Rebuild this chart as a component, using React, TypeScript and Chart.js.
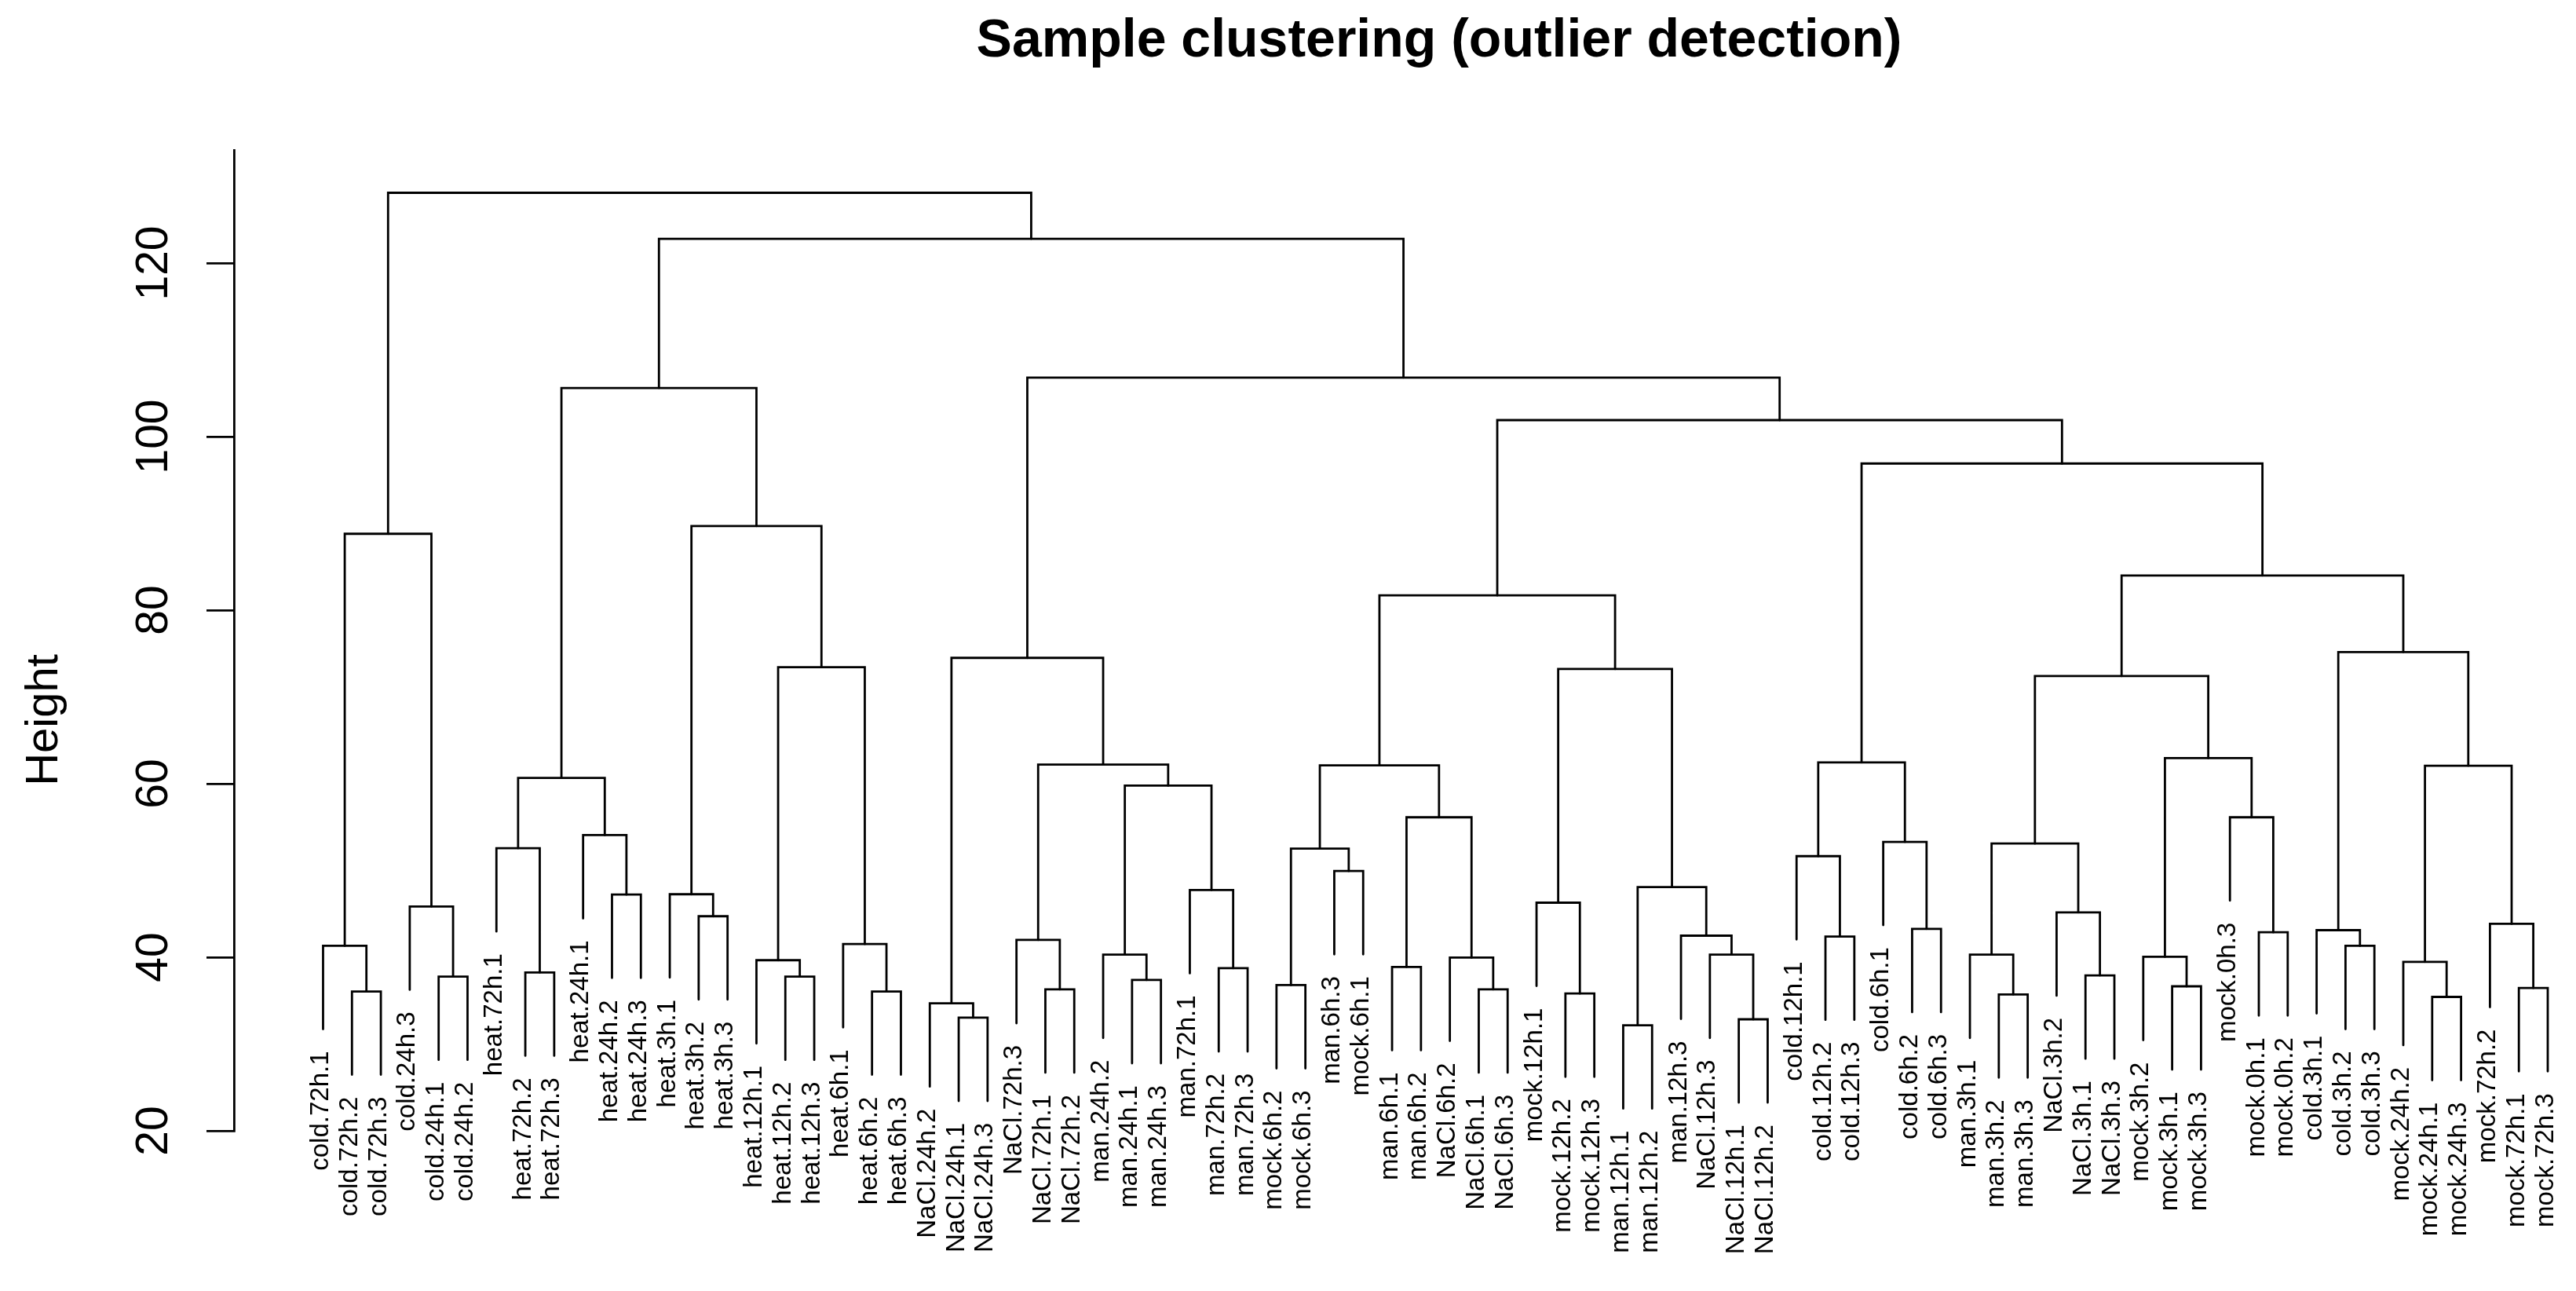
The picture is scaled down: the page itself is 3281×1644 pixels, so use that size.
import React, { useEffect, useRef } from "react";
import { Chart, registerables } from "chart.js";

Chart.register(...registerables);

const TITLE = "Sample clustering (outlier detection)";
const Y_TITLE = "Height";
const yTicks = [20, 40, 60, 80, 100, 120];

// leaves in dendrogram display order (left to right)
const leafLabels = [
  "cold.72h.1", "cold.72h.2", "cold.72h.3", "cold.24h.3", "cold.24h.1", "cold.24h.2",
  "heat.72h.1", "heat.72h.2", "heat.72h.3", "heat.24h.1", "heat.24h.2", "heat.24h.3",
  "heat.3h.1", "heat.3h.2", "heat.3h.3", "heat.12h.1", "heat.12h.2", "heat.12h.3",
  "heat.6h.1", "heat.6h.2", "heat.6h.3", "NaCl.24h.2", "NaCl.24h.1", "NaCl.24h.3",
  "NaCl.72h.3", "NaCl.72h.1", "NaCl.72h.2", "man.24h.2", "man.24h.1", "man.24h.3",
  "man.72h.1", "man.72h.2", "man.72h.3", "mock.6h.2", "mock.6h.3", "man.6h.3",
  "mock.6h.1", "man.6h.1", "man.6h.2", "NaCl.6h.2", "NaCl.6h.1", "NaCl.6h.3",
  "mock.12h.1", "mock.12h.2", "mock.12h.3", "man.12h.1", "man.12h.2", "man.12h.3",
  "NaCl.12h.3", "NaCl.12h.1", "NaCl.12h.2", "cold.12h.1", "cold.12h.2", "cold.12h.3",
  "cold.6h.1", "cold.6h.2", "cold.6h.3", "man.3h.1", "man.3h.2", "man.3h.3",
  "NaCl.3h.2", "NaCl.3h.1", "NaCl.3h.3", "mock.3h.2", "mock.3h.1", "mock.3h.3",
  "mock.0h.3", "mock.0h.1", "mock.0h.2", "cold.3h.1", "cold.3h.2", "cold.3h.3",
  "mock.24h.2", "mock.24h.1", "mock.24h.3", "mock.72h.2", "mock.72h.1", "mock.72h.3",
];

// merge table (R hclust style): negative = leaf number (1-based), positive = earlier merge number
const mergeLeft = [
  -2, -1, -5, -4, 2, -8, -7, -11, -10, 7,
  -14, -13, -17, -16, -20, -19, 14, 12, 10, -23,
  -22, -26, -25, -29, -28, -32, -31, 25, 23, 21,
  -34, -36, 31, -38, -41, -40, 34, 33, -44, -43,
  -46, -50, -49, -48, 41, 40, 38, -53, -52, -56,
  -55, 49, -59, -58, -62, -61, 54, -65, -64, -68,
  -67, 59, 57, -71, -70, -74, -73, -77, -76, 67,
  65, 63, 52, 47, 30, 19, 5,
];
const mergeRight = [
  -3, 1, -6, 3, 4, -9, 6, -12, 8, 9,
  -15, 11, -18, 13, -21, 15, 16, 17, 18, -24,
  20, -27, 22, -30, 24, -33, 26, 27, 28, 29,
  -35, -37, 32, -39, -42, 35, 36, 37, -45, 39,
  -47, -51, 42, 43, 44, 45, 46, -54, 48, -57,
  50, 51, -60, 53, -63, 55, 56, -66, 58, -69,
  60, 61, 62, -72, 64, -75, 66, -78, 68, 69,
  70, 71, 72, 73, 74, 75, 76,
];
const mergeHeight = [
  36.06, 41.32, 37.77, 45.85, 88.8, 38.25, 52.57, 47.22, 54.08, 60.66,
  44.73, 47.26, 37.77, 39.66, 36.06, 41.52, 73.42, 89.7, 105.6, 33.04,
  34.7, 36.3, 42.0, 37.38, 40.3, 38.74, 47.75, 59.78, 62.2, 74.5,
  36.79, 49.94, 52.52, 38.88, 36.3, 39.96, 56.13, 62.12, 35.82, 46.29,
  32.16, 32.85, 40.3, 42.49, 48.09, 73.22, 81.7, 42.39, 51.65, 43.27,
  53.3, 62.46, 35.72, 40.3, 37.91, 45.17, 53.11, 36.65, 40.05, 42.88,
  56.13, 62.95, 72.4, 41.32, 43.12, 35.43, 39.47, 36.45, 43.85, 62.07,
  75.17, 84.0, 96.9, 101.9, 106.8, 122.8, 128.1,
];
const HANG = 9.6;

const FONT = '"Liberation Sans", Arial, Helvetica, sans-serif';

function buildTree() {
  const nodeX: number[] = [];
  const leafBottom: number[] = new Array(leafLabels.length).fill(0);
  const segments: { x: number; y: number }[][] = [];
  const child = (c: number, h: number) => {
    if (c < 0) {
      const i = -c;
      leafBottom[i - 1] = h - HANG;
      return { x: i, y: h - HANG };
    }
    return { x: nodeX[c - 1], y: mergeHeight[c - 1] };
  };
  for (let k = 0; k < mergeHeight.length; k++) {
    const h = mergeHeight[k];
    const a = child(mergeLeft[k], h);
    const b = child(mergeRight[k], h);
    nodeX[k] = (a.x + b.x) / 2;
    segments.push([
      { x: a.x, y: a.y },
      { x: a.x, y: h },
      { x: b.x, y: h },
      { x: b.x, y: b.y },
    ]);
  }
  return { segments, leafBottom };
}

export default function App() {
  const ref = useRef<HTMLCanvasElement | null>(null);

  useEffect(() => {
    if (!ref.current) return;
    const { segments, leafBottom } = buildTree();

    const textPlugin = {
      id: "dendroText",
      afterDraw(chart: any) {
        const ctx = chart.ctx as CanvasRenderingContext2D;
        const xs = chart.scales.x;
        const ys = chart.scales.y;
        ctx.save();
        ctx.fillStyle = "#000";

        // title
        ctx.font = `bold 68px ${FONT}`;
        ctx.textAlign = "center";
        ctx.textBaseline = "alphabetic";
        ctx.fillText(TITLE, 1833, 72);

        // y tick labels (rotated, R style)
        ctx.font = `57px ${FONT}`;
        for (const v of yTicks) {
          const y = ys.getPixelForValue(v);
          ctx.save();
          ctx.translate(213, y);
          ctx.rotate(-Math.PI / 2);
          ctx.textAlign = "center";
          ctx.fillText(String(v), 0, 0);
          ctx.restore();
        }

        // y axis title
        ctx.font = `58px ${FONT}`;
        ctx.save();
        ctx.translate(73, 917);
        ctx.rotate(-Math.PI / 2);
        ctx.textAlign = "center";
        ctx.fillText(Y_TITLE, 0, 0);
        ctx.restore();

        // leaf labels
        ctx.font = `33px ${FONT}`;
        leafLabels.forEach((lab, i) => {
          const x = xs.getPixelForValue(i + 1) + 6.6;
          const y = ys.getPixelForValue(leafBottom[i]) + 28;
          ctx.save();
          ctx.translate(x, y);
          ctx.rotate(-Math.PI / 2);
          ctx.textAlign = "right";
          ctx.fillText(lab, 0, 0);
          ctx.restore();
        });
        ctx.restore();
      },
    };

    const chart = new Chart(ref.current, {
      type: "scatter",
      data: {
        datasets: segments.map((seg) => ({
          data: seg,
          showLine: true,
          borderColor: "#000",
          borderWidth: 2.8,
          pointRadius: 0,
          pointHoverRadius: 0,
          fill: false,
          tension: 0,
          borderCapStyle: "round" as const,
          borderJoinStyle: "miter" as const,
        })),
      },
      options: {
        animation: false,
        responsive: false,
        devicePixelRatio: 1,
        events: [],
        layout: { padding: { top: 191, bottom: 204, left: 0, right: 0 } },
        plugins: {
          legend: { display: false },
          tooltip: { enabled: false },
          title: { display: false },
        },
        scales: {
          x: {
            type: "linear",
            display: false,
            min: -2.084,
            max: 78.978,
          },
          y: {
            type: "linear",
            min: 20,
            max: 133.03,
            afterBuildTicks: (scale: any) => {
              scale.ticks = yTicks.map((v) => ({ value: v }));
            },
            afterFit: (scale: any) => {
              scale.width = 298;
            },
            ticks: { display: false },
            grid: {
              display: true,
              drawOnChartArea: false,
              drawTicks: true,
              tickLength: 35,
              tickWidth: 2.8,
              tickColor: "#000",
              color: "#000",
              lineWidth: 2.8,
            },
            border: { display: true, color: "#000", width: 2.8 },
          },
        },
      },
      plugins: [textPlugin],
    });
    return () => chart.destroy();
  }, []);

  return (
    <div style={{ position: "fixed", left: 0, top: 0, width: 3281, height: 1644, background: "#fff" }}>
      <canvas ref={ref} width={3281} height={1644} style={{ width: 3281, height: 1644, display: "block" }} />
    </div>
  );
}
